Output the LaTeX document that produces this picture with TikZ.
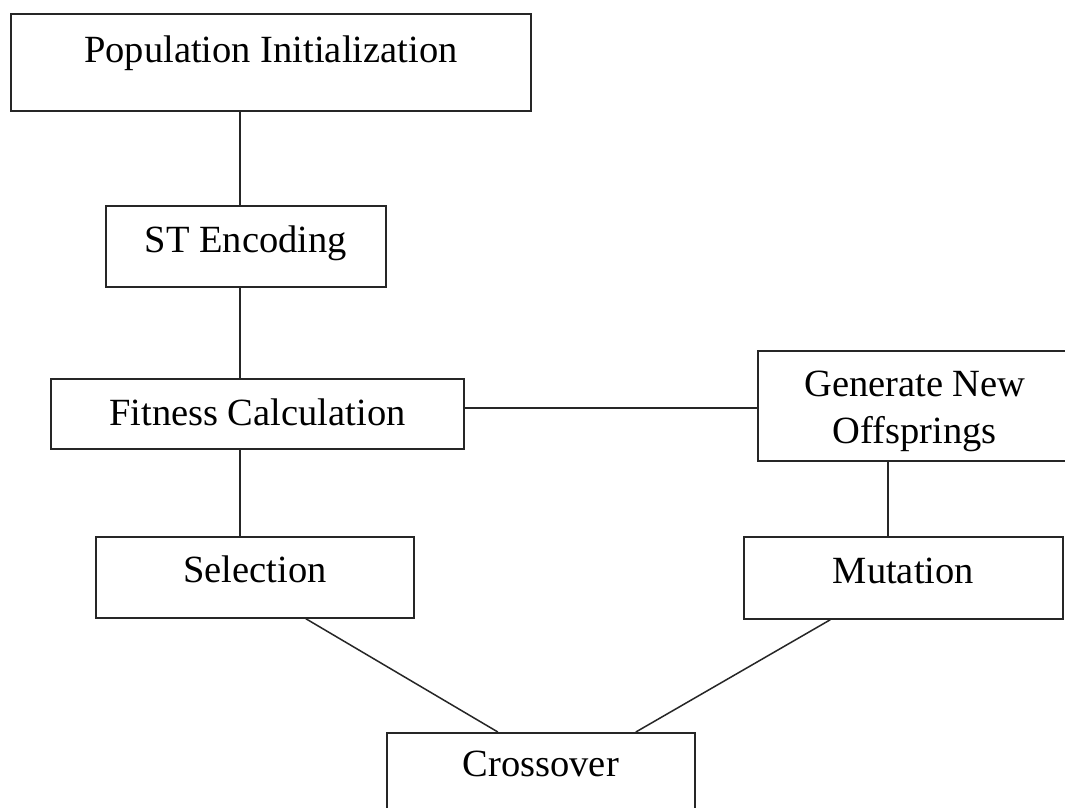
\documentclass[tikz,border=0pt]{standalone}
\usepackage{fontspec}
\setmainfont{Liberation Serif}
\begin{document}
\begin{tikzpicture}[x=1pt,y=-1pt,
  stage/.style={draw=black!85, line width=1.7pt, rectangle, anchor=north west,
    inner xsep=0pt, inner ysep=0pt, align=center,
    font=\fontsize{38.5}{47}\selectfont},
  link/.style={draw=black!85, line width=1.5pt}]
\clip (0,0) rectangle (1065,807);
\fill[white] (0,0) rectangle (1065,807);

% process stages (top-left corner, width, baseline offset, height)
\node[stage, minimum width=520pt, text height=49pt, text depth=48pt] (pop) at (10,13) {Population Initialization};
\node[stage, minimum width=280pt, text height=47pt, text depth=34pt] (st) at (105,205) {ST Encoding};
\node[stage, minimum width=413pt, text height=47pt, text depth=23pt] (fit) at (50,378) {Fitness Calculation};
\node[stage, minimum width=314pt, text height=46pt, text depth=64pt] (gen) at (757,350)
  {\begin{tabular}[t]{@{}c@{}}Generate New\\Offsprings\end{tabular}};
\node[stage, minimum width=318pt, text height=46pt, text depth=35pt] (sel) at (95,536) {Selection};
\node[stage, minimum width=319pt, text height=47pt, text depth=35pt] (mut) at (743,536) {Mutation};
\node[stage, minimum width=308pt, text height=44pt, text depth=59pt] (cross) at (386,732) {Crossover};

% guide lines for the connectors
\coordinate (spine) at (240,0);
\coordinate (row) at (0,408);
\coordinate (drop) at (888,0);

\draw[link] (pop.south -| spine) -- (st.north -| spine);
\draw[link] (st.south -| spine) -- (fit.north -| spine);
\draw[link] (fit.south -| spine) -- (sel.north -| spine);
\draw[link] (fit.east |- row) -- (gen.west |- row);
\draw[link] (gen.south -| drop) -- (mut.north -| drop);
\draw[link] ([xshift=51pt]sel.south) -- ([xshift=-43pt]cross.north);
\draw[link] ([xshift=-73pt]mut.south) -- ([xshift=95pt]cross.north);
\end{tikzpicture}
\end{document}
